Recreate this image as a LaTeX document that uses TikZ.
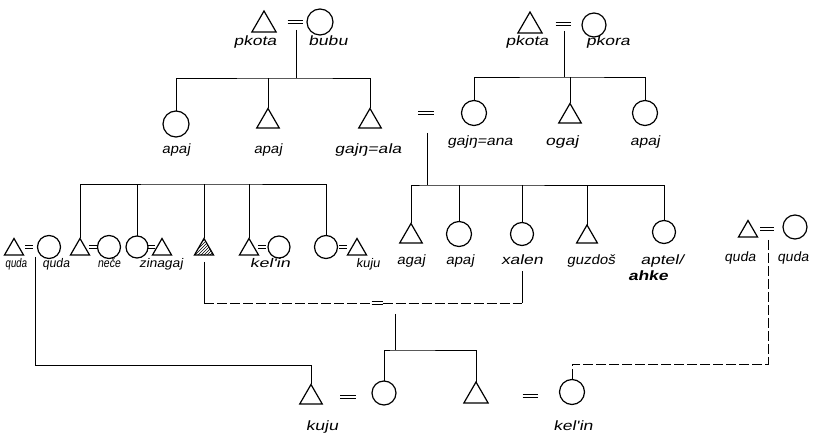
\documentclass[tikz,border=0pt]{standalone}
\usepackage{fontspec}
\newfontfamily\hand[FakeStretch=1.3,FakeSlant=0.2]{Liberation Sans}
\usetikzlibrary{shapes.geometric,patterns}
\newcommand{\eqsign}[1]{\vbox{\hrule width #1 height 1.1pt\vskip 2.6pt\hrule width #1 height 1.1pt}}
\newcommand{\sx}[2]{\scalebox{#1}[1]{#2}}
\tikzset{
  shp/.style={draw,line width=1.2pt,inner sep=0pt,outer sep=0pt},
  tri/.style={shp,regular polygon,regular polygon sides=3,minimum size=#1,anchor=south},
  tri/.default=26pt,
  circ/.style={shp,circle,minimum size=#1},
  circ/.default=24pt,
  lbl/.style={font=\hand\fontsize{13.5}{13.5}\selectfont,inner sep=0pt,text height=1.5ex,text depth=.25ex},
  lbls/.style={lbl,font=\hand\fontsize{12.5}{12.5}\selectfont},
  eq/.style={inner sep=0pt,outer sep=0pt},
  ln/.style={line width=0.8pt},
  dln/.style={line width=0.8pt,dash pattern=on 10pt off 3pt},
}
\begin{document}
\begin{tikzpicture}[x=1pt,y=-1pt]
\path[use as bounding box,fill=white] (0,0) rectangle (822,435);

% ---- top-left couple
\node[tri=28pt] (tA) at (264,32) {};
\node[eq] (eA) at (295,22) {\eqsign{15pt}};
\node[circ=26pt] (cA) at (320,22) {};
\node[lbl] (lA1) at (255,43) {pkota};
\node[lbl] (lA2) at (328,43) {bubu};
% ---- top-right couple
\node[tri=28pt] (tB) at (530,33) {};
\node[eq] (eB) at (563,24) {\eqsign{15pt}};
\node[circ] (cB) at (594,25) {};
\node[lbl] (lB1) at (527,43) {pkota};
\node[lbl] (lB2) at (608,43) {pkora};

% ---- second row left
\node[circ=26pt] (c21) at (176,124) {};
\node[tri] (t22) at (268,128) {};
\node[tri] (t23) at (370,128) {};
\node[lbl] at (176,151) {\sx{0.85}{apaj}};
\node[lbl] at (268,151) {\sx{0.85}{apaj}};
\node[lbl] at (368,151) {gajŋ=ala};
% ---- second row right
\node[eq] (e2) at (426,113) {\eqsign{16pt}};
\node[circ=25pt] (c24) at (474,113) {};
\node[tri] (t25) at (570,123) {};
\node[circ=25pt] (c26) at (645,113) {};
\node[lbl] at (480,143) {\sx{0.9}{gajŋ=ana}};
\node[lbl] at (562,143) {ogaj};
\node[lbl] at (645,143) {\sx{0.9}{apaj}};

% ---- third row left
\node[tri=22pt] (tq1) at (14,255) {};
\node[eq] (eq1) at (29,247) {\eqsign{8pt}};
\node[circ=23pt] (cq2) at (49,247) {};
\node[tri=22pt] (t41) at (80,255) {};
\node[eq] (eq41) at (93,247) {\eqsign{8pt}};
\node[circ=23pt] (c41s) at (109,247) {};
\node[circ=22pt] (c42) at (137,247) {};
\node[eq] (eq42) at (151,247) {\eqsign{8pt}};
\node[tri=22pt] (t42s) at (162,255) {};
\node[tri=22pt,pattern=north east lines] (t43) at (204,255) {};
\node[tri=22pt] (t44) at (249,255) {};
\node[eq] (eq44) at (262,247) {\eqsign{8pt}};
\node[circ=22pt] (c44s) at (279,247) {};
\node[circ=23pt] (c45) at (326,247) {};
\node[eq] (eq45) at (343,247) {\eqsign{8pt}};
\node[tri=22pt] (t45s) at (357,255) {};
\node[lbls] at (16,265) {\sx{0.6}{quda}};
\node[lbls] at (56,265) {\sx{0.75}{quda}};
\node[lbls] at (109,265) {\sx{0.65}{neče}};
\node[lbls] at (161,265) {\sx{0.85}{zinagaj}};
\node[lbls] at (270,265) {\sx{1.1}{kel'in}};
\node[lbls] at (368,265) {\sx{0.8}{kuju}};

% ---- third row right
\node[tri] (t31) at (411,243) {};
\node[circ=25pt] (c32) at (459,234) {};
\node[circ=23pt] (c33) at (522,234) {};
\node[tri=24pt] (t34) at (587,243) {};
\node[circ=23pt] (c35) at (664,232) {};
\node[lbl] at (411,262) {\sx{0.85}{agaj}};
\node[lbl] at (460,262) {\sx{0.85}{apaj}};
\node[lbl] at (522,262) {xalen};
\node[lbl] at (591,262) {\sx{0.85}{guzdoš}};
\node[lbl] at (662,262) {aptel/};
\node[lbl,font=\hand\bfseries\fontsize{13.5}{13.5}\selectfont] at (648,278) {ahke};

% ---- right quda couple
\node[tri=22pt] (tq3) at (748,237) {};
\node[eq] (eq3) at (767,229) {\eqsign{14pt}};
\node[circ] (cq4) at (795,227) {};
\node[lbl] at (740,259) {\sx{0.8}{quda}};
\node[lbl] at (793,259) {\sx{0.8}{quda}};

% ---- bottom row
\node[tri] (t51) at (311,404) {};
\node[eq] (eq51) at (348,397) {\eqsign{16pt}};
\node[circ] (c52) at (384,393) {};
\node[tri=28pt] (t53) at (476,403) {};
\node[eq] (eq53) at (530,396) {\eqsign{15pt}};
\node[circ=25pt] (c54) at (572,392) {};
\node[lbl] at (322,428) {kuju};
\node[lbl] at (573,428) {kel'in};

% ---- marriage sign between the two lines
\node[eq] (eM) at (377,303) {\eqsign{11pt}};

% ---- coordinates
\coordinate (mA) at (296,30);
\coordinate (jA) at (296,78);
\coordinate (mB) at (564,31);
\coordinate (jB) at (564,77);
\coordinate (m2) at (427,133);
\coordinate (j2) at (427,185);
\coordinate (jL) at (200,184);
\coordinate (mq) at (35,257);
\coordinate (kq) at (35,365);
\coordinate (h1) at (204,262);
\coordinate (h2) at (204,303);
\coordinate (x1) at (522,271);
\coordinate (x2) at (522,303);
\coordinate (d1) at (395,314);
\coordinate (d2) at (395,350);
\coordinate (mr) at (768,240);
\coordinate (kr) at (768,364);

% ---- connectors
\draw[ln] (mA) -- (jA);
\draw[ln] (c21.north) |- (jA) -| (t23.north);
\draw[ln] (t22.north) -- (t22.north |- jA);

\draw[ln] (mB) -- (jB);
\draw[ln] (c24.north) |- (jB) -| (c26.north);
\draw[ln] (t25.north) -- (t25.north |- jB);

\draw[ln] (m2) -- (j2);
\draw[ln] (t31.north) |- (j2) -| (c35.north);
\draw[ln] (c32.north) -- (c32.north |- j2);
\draw[ln] (c33.north) -- (c33.north |- j2);
\draw[ln] (t34.north) -- (t34.north |- j2);

\draw[ln] (t41.north) |- (jL) -| (c45.north);
\draw[ln] (c42.north) -- (c42.north |- jL);
\draw[ln] (t43.north) -- (t43.north |- jL);
\draw[ln] (t44.north) -- (t44.north |- jL);

\draw[ln] (mq) -- (kq) -| (t51.north);

\draw[ln] (h1) -- (h2);
\draw[dln] (h2) -- (eM.west);
\draw[dln] (eM.east) -- (x2);
\draw[ln] (x2) -- (x1);

\draw[ln] (d1) -- (d2);
\draw[ln] (c52.north) |- (d2) -| (t53.north);

\draw[dln] (mr) -- (kr) -| (c54.north);
\end{tikzpicture}
\end{document}
